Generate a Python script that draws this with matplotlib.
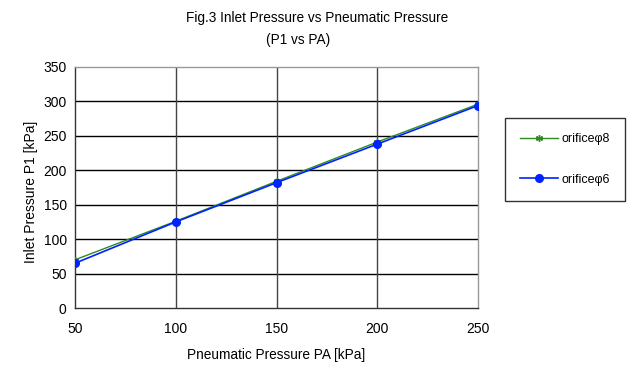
import matplotlib
matplotlib.use("Agg")
import matplotlib.pyplot as plt

plt.rcParams['font.family'] = ['Liberation Sans', 'DejaVu Sans']

pa = [50, 100, 150, 200, 250]
p1_phi8 = [70, 126, 184, 241, 296]
p1_phi6 = [65, 125, 182, 238, 294]
series_labels = ['orificeφ8', 'orificeφ6']
x_ticks = [50, 100, 150, 200, 250]
y_ticks = [0, 50, 100, 150, 200, 250, 300, 350]

fig = plt.figure(figsize=(6.44, 3.85), dpi=100)
ax = fig.add_axes([75/644, 1-308/385, (478-75)/644, (308-67)/385])

ax.plot(pa, p1_phi8, color='#2e8b22', lw=1.0, marker=(6, 2, 0), ms=5,
        mec='#2e8b22', label=series_labels[0], zorder=3)
ax.plot(pa, p1_phi6, color='#0022ff', lw=1.2, marker='o', ms=5.5,
        mec='#0022ff', mfc='#0022ff', label=series_labels[1], zorder=4)

ax.set_xlim(50, 250)
ax.set_ylim(0, 350)
ax.set_xticks(x_ticks)
ax.set_yticks(y_ticks)
ax.tick_params(axis='both', labelsize=10, length=0, pad=6)
ax.tick_params(axis='x', pad=10)

for y in y_ticks[1:-1]:
    ax.axhline(y, color='black', lw=1.0, zorder=1)
for x in x_ticks[1:-1]:
    ax.axvline(x, color='#444444', lw=1.0, zorder=1)

ax.spines['left'].set_color('#333333')
ax.spines['bottom'].set_color('#333333')
ax.spines['top'].set_color('#999999')
ax.spines['right'].set_color('#999999')
for s in ax.spines.values():
    s.set_linewidth(1.0)

ax.set_xlabel('Pneumatic Pressure PA [kPa]', fontsize=9.8, labelpad=9)
ax.set_ylabel('Inlet Pressure P1 [kPa]', fontsize=10)
ax.yaxis.set_label_coords((38 - 75) / 403, (308 - 192) / 241)

fig.text(317/644, 1-18/385, 'Fig.3 Inlet Pressure vs Pneumatic Pressure',
         ha='center', va='center', fontsize=9.8)
fig.text(298/644, 1-40/385, '(P1 vs PA)', ha='center', va='center', fontsize=9.8)

leg = fig.legend(loc='upper left', bbox_to_anchor=(505/644, 1-118/385),
                 fontsize=9, frameon=True, fancybox=False, edgecolor='black',
                 handlelength=3, labelspacing=2.3, borderpad=1.2,
                 handletextpad=0.3, borderaxespad=0)
leg.get_frame().set_linewidth(1.0)

fig.savefig('out.png', dpi=100)
